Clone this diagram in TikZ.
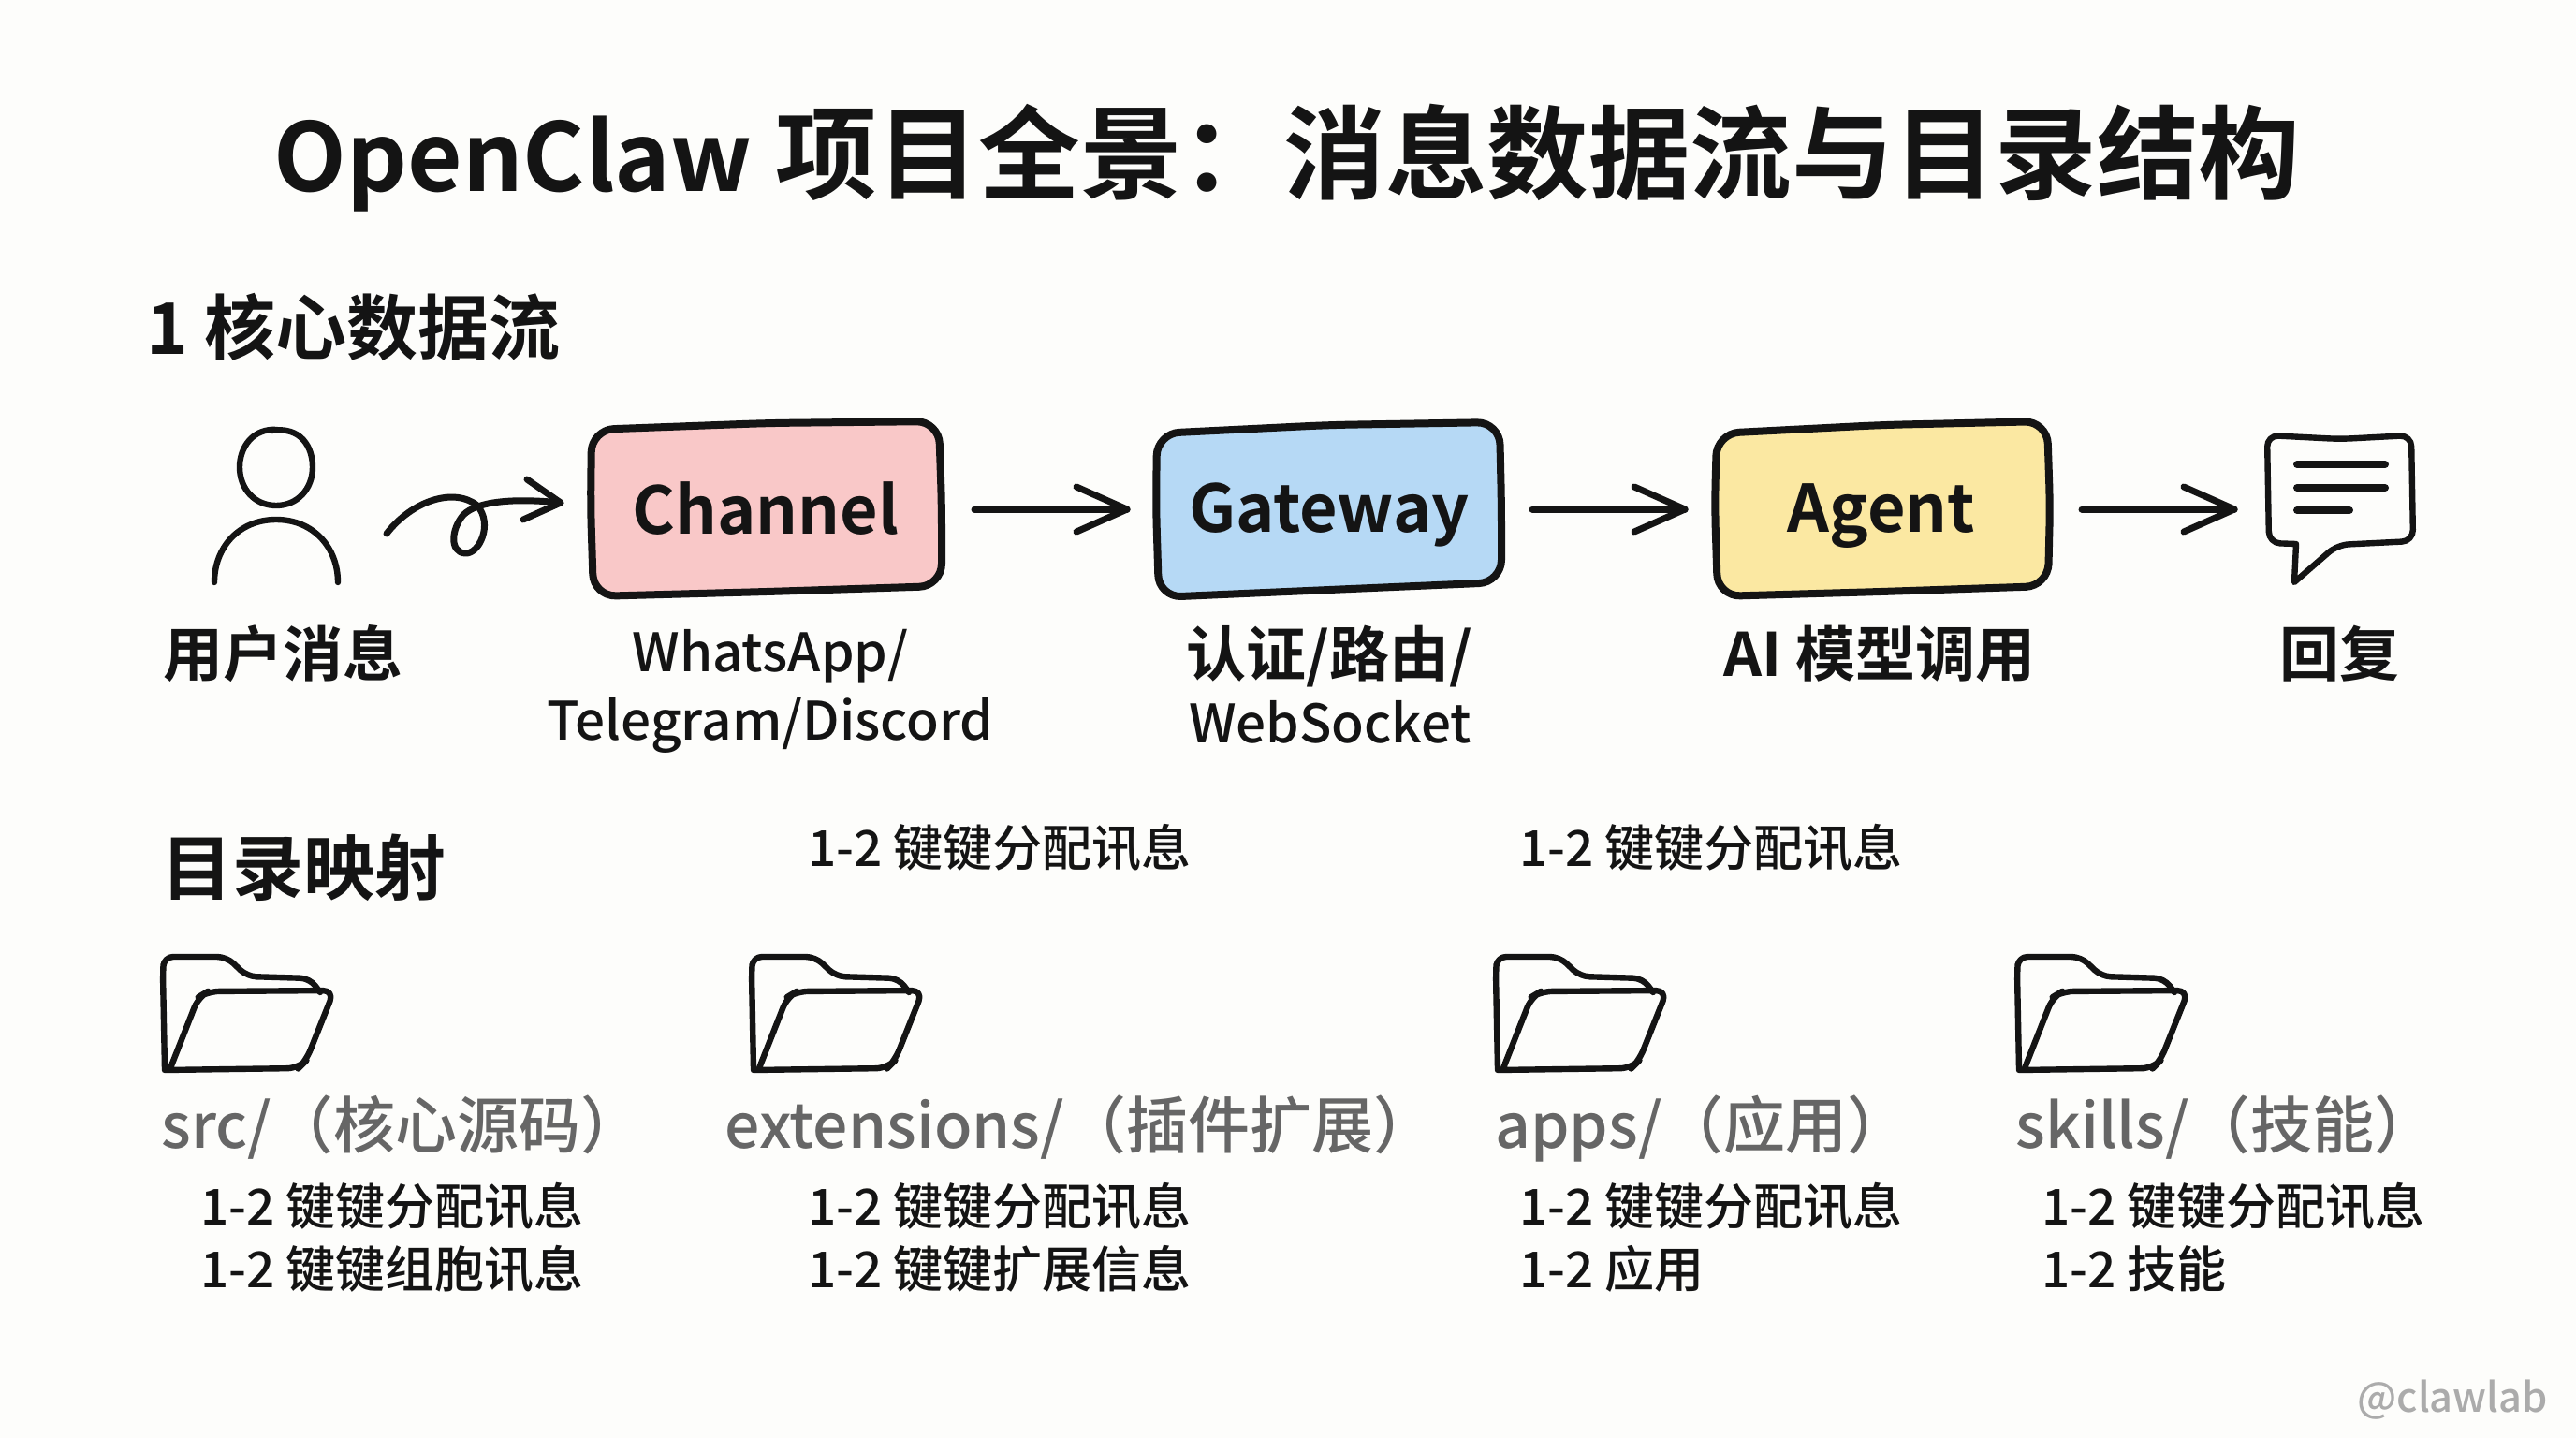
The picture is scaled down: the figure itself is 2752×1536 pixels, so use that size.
\documentclass[tikz,border=0pt]{standalone}
\usepackage{fontspec}
\setmainfont{Noto Sans CJK SC}
\newfontfamily\medf{Noto Sans CJK SC Medium}
\newfontfamily\boldf{Noto Sans CJK SC Bold}
\definecolor{ink}{HTML}{141414}
\definecolor{paper}{HTML}{FDFDFB}
\definecolor{pinkf}{HTML}{F9C8C8}
\definecolor{bluef}{HTML}{B6D9F5}
\definecolor{yellowf}{HTML}{FBE8A2}
\definecolor{greyt}{HTML}{666666}
\definecolor{wmark}{HTML}{ABABAB}
\tikzset{
  txt/.style={inner sep=0pt,anchor=base,text=ink},
  ltxt/.style={inner sep=0pt,anchor=base west,text=ink},
  titlef/.style={font=\boldf\fontsize{54.3}{56}\selectfont},
  headf/.style={font=\boldf\fontsize{38}{38}\selectfont},
  boxf/.style={font=\boldf\fontsize{35}{39}\selectfont},
  rowf/.style={font=\boldf\fontsize{32}{33}\selectfont},
  latf/.style={font=\medf\fontsize{28.3}{30}\selectfont},
  dirf/.style={font=\medf\fontsize{33}{33}\selectfont,text=greyt},
  subf/.style={font=\medf\fontsize{26.5}{27}\selectfont},
  wmf/.style={font=\medf\fontsize{21.7}{24}\selectfont,text=wmark},
  handbox/.style={draw=ink,line width=4pt,rounded corners=12pt,line join=round},
  iconline/.style={draw=ink,line width=3.2pt,line cap=round,line join=round},
  flowline/.style={draw=ink,line width=3.5pt,line cap=round,line join=round},
  folderline/.style={draw=ink,line width=3.2pt,line cap=round,line join=round},
  pics/foldericon/.style={code={
    \draw[folderline,rounded corners=5pt] (2,122) -- (0,20) -- (1,2) -- (68,2) -- (90,23) -- (157,25) -- (168,40);
    \draw[folderline,rounded corners=6pt] (8,121) -- (38,45) -- (48,39) -- (183,38) -- (153,113) -- (145,121) -- (2,123);
  }}
}
\begin{document}
\begin{tikzpicture}[x=0.5pt,y=-0.5pt]
\fill[paper] (0,0) rectangle (2752,1536);
\useasboundingbox (0,0) rectangle (2752,1536);

\node[txt,titlef] (title) at (1375,204) {{\fontsize{50.5}{56}\selectfont OpenClaw} 项目全景：消息数据流与目录结构};
\node[ltxt,headf] (h1) at (156,378) {1 核心数据流};

% user icon
\draw[iconline] (296,459) .. controls (270,457) and (256,478) .. (256,499)
   .. controls (256,522) and (272,540) .. (295,540)
   .. controls (318,540) and (334,522) .. (334,499)
   .. controls (334,478) and (322,455) .. (290,460);
\draw[iconline] (229,622) .. controls (229,585) and (255,555) .. (295,555)
   .. controls (335,555) and (361,585) .. (361,622);

% curly
\coordinate (curlS) at (413,570);
\coordinate (chanIn) at (599,537);
\draw[flowline] (curlS) .. controls (440,535) and (485,520) .. (510,540)
   .. controls (527,560) and (512,592) .. (497,591)
   .. controls (480,590) and (482,565) .. (495,550)
   .. controls (510,535) and (550,532) .. (chanIn);
\draw[flowline] (563,512) -- (chanIn) -- (559,555);

% boxes
\draw[handbox,fill=pinkf] (632,459) -- (820,452) -- (1003,450) -- (1006,540) -- (1006,626) -- (820,632) -- (634,637) -- (631,540) -- cycle;
\draw[handbox,fill=bluef] (1236,463) -- (1420,454) -- (1602,451) -- (1604,540) -- (1604,622) -- (1420,630) -- (1238,638) -- (1235,540) -- cycle;
\draw[handbox,fill=yellowf] (1834,463) -- (2010,454) -- (2187,450) -- (2190,540) -- (2188,626) -- (2010,632) -- (1835,637) -- (1832,540) -- cycle;

\node[txt,boxf] (chan) at (818,570) {Channel};
\node[txt,boxf] (gate) at (1420,568) {Gateway};
\node[txt,boxf] (agent) at (2010,568) {Agent};

\coordinate (chanE) at (1041,544);
\coordinate (gateW) at (1204,544);
\coordinate (gateE) at (1637,544);
\coordinate (agentW) at (1800,544);
\coordinate (agentE) at (2224,544);
\coordinate (replyW) at (2387,544);
\draw[flowline] (chanE) -- (gateW);
\draw[flowline] (1150,520) -- (gateW) -- (1150,568);
\draw[flowline] (gateE) -- (agentW);
\draw[flowline] (1746,520) -- (agentW) -- (1746,568);
\draw[flowline] (agentE) -- (replyW);
\draw[flowline] (2333,520) -- (replyW) -- (2333,568);

% reply bubble
\draw[iconline,rounded corners=6pt] (2422,465) -- (2500,469) -- (2576,465) -- (2578,578) -- (2497,582) [sharp corners] -- (2451,622) -- (2453,581) [rounded corners=6pt] -- (2424,580) -- cycle;
\draw[iconline,line width=4pt] (2454,496) -- (2548,496);
\draw[iconline,line width=4pt] (2454,521) -- (2548,521);
\draw[iconline,line width=4pt] (2454,545) -- (2510,545);

% row labels
\node[txt,rowf] (l1) at (302,722) {用户消息};
\node[txt,latf] (l2a) at (823,717) {WhatsApp/};
\node[txt,latf] (l2b) at (823,790) {Telegram/Discord};
\node[txt,rowf] (l3a) at (1420,722) {认证/路由/};
\node[txt,latf] (l3b) at (1421,793) {WebSocket};
\node[txt,rowf] (l4) at (2008,722) {AI 模型调用};
\node[txt,rowf] (l5) at (2499,722) {回复};

\node[ltxt,headf] (h2) at (172,955) {目录映射};
\node[ltxt,subf] (s1) at (863,925) {1-2 键键分配讯息};
\node[ltxt,subf] (s2) at (1623,925) {1-2 键键分配讯息};

% folders
\pic at (174,1020) {foldericon};
\pic at (803,1020) {foldericon};
\pic at (1598,1020) {foldericon};
\pic at (2155,1020) {foldericon};

\node[ltxt,dirf] (d1) at (172,1226) {src/（核心源码）};
\node[ltxt,dirf] (d2) at (774,1226) {extensions/（插件扩展）};
\node[ltxt,dirf] (d3) at (1597,1226) {apps/（应用）};
\node[ltxt,dirf] (d4) at (2153,1226) {skills/（技能）};

\node[ltxt,subf] (a1) at (214,1308) {1-2 键键分配讯息};
\node[ltxt,subf] (a2) at (214,1375) {1-2 键键组胞讯息};
\node[ltxt,subf] (b1) at (863,1308) {1-2 键键分配讯息};
\node[ltxt,subf] (b2) at (863,1375) {1-2 键键扩展信息};
\node[ltxt,subf] (c1) at (1623,1308) {1-2 键键分配讯息};
\node[ltxt,subf] (c2) at (1623,1375) {1-2 应用};
\node[ltxt,subf] (e1) at (2181,1308) {1-2 键键分配讯息};
\node[ltxt,subf] (e2) at (2181,1375) {1-2 技能};

\node[ltxt,wmf] (wm) at (2518,1508) {@clawlab};
\end{tikzpicture}
\end{document}
